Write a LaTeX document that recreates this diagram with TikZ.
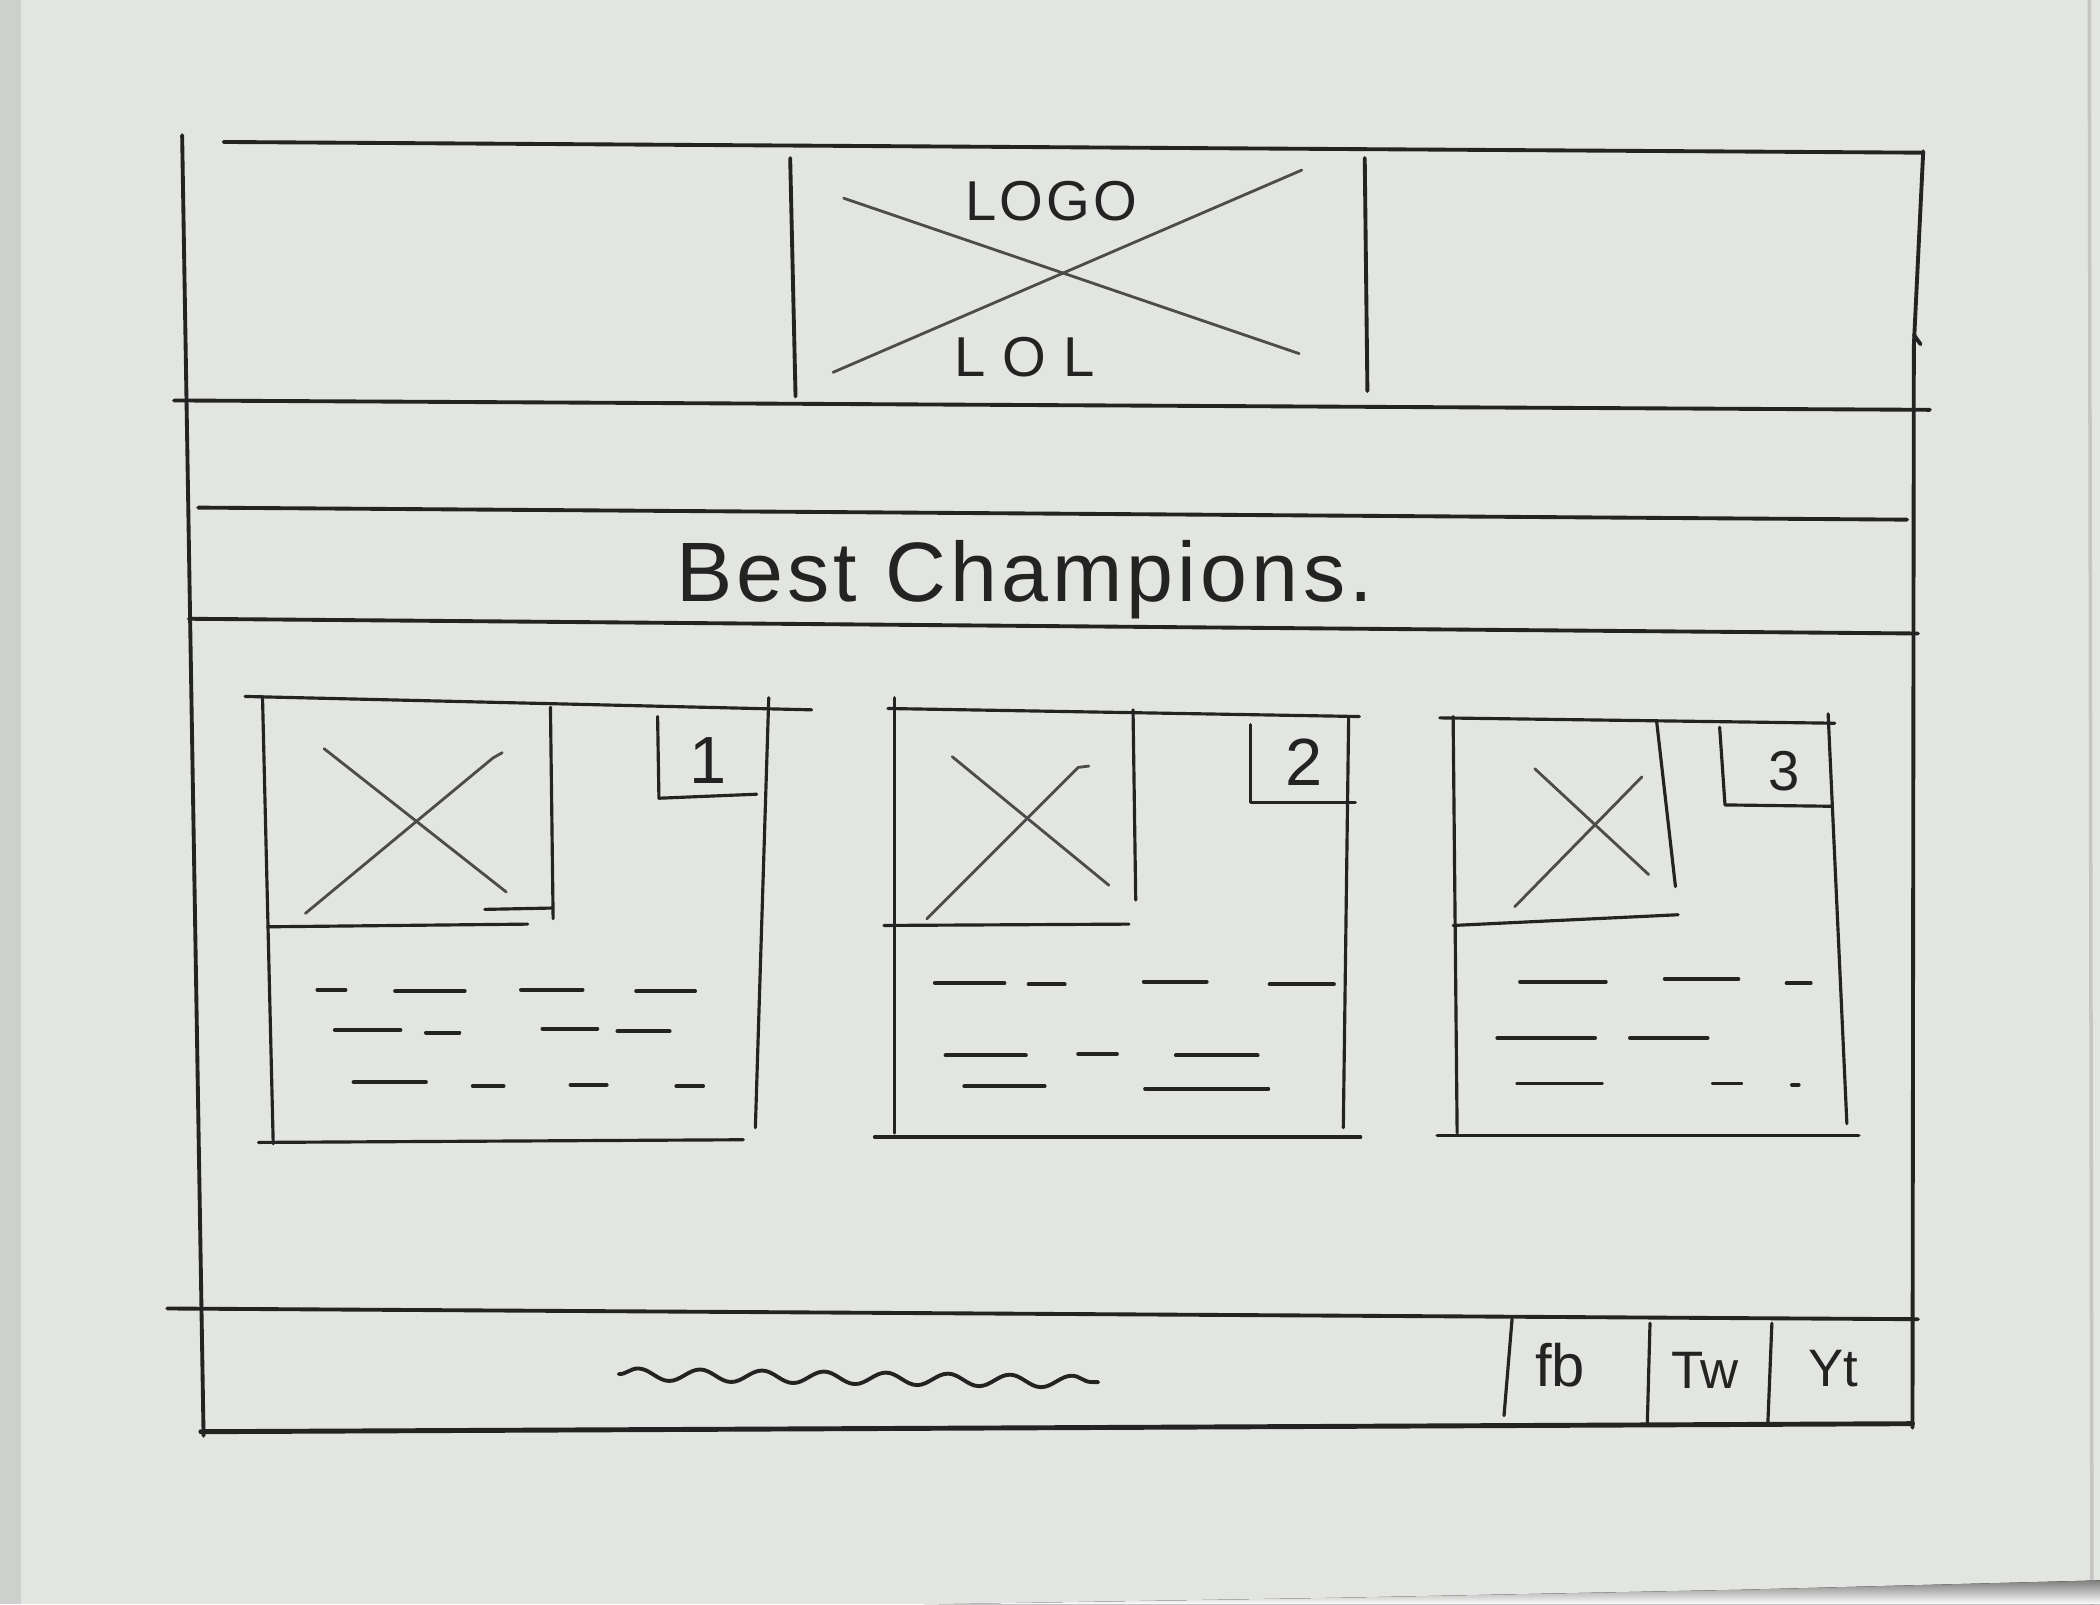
\documentclass[tikz,border=0pt]{standalone}
\usepackage{fontspec}
\setmainfont{Liberation Sans}
\usetikzlibrary{decorations.pathmorphing}
\definecolor{paper}{HTML}{E3E5E1}
\definecolor{paperedge}{HTML}{CDD0CD}
\definecolor{ink}{HTML}{232323}
\definecolor{pencil}{HTML}{4C4C4C}
\definecolor{shade}{HTML}{4E4E4E}
\begin{document}
\begin{tikzpicture}[x=0.01339cm, y=-0.01339cm, line cap=round, line join=round,
  frame/.style={draw=ink, line width=1.1pt},
  thin/.style={draw=ink, line width=0.9pt},
  xline/.style={draw=pencil, line width=0.8pt},
  scrib/.style={draw=ink, line width=1.1pt},
  hand/.style={inner sep=0pt, text=ink},
  squiggle/.style={draw=ink, line width=1.1pt, decorate,
    decoration={snake, segment length=0.62cm, amplitude=0.06cm}}]
% paper
\useasboundingbox (0,0) rectangle (1568,1198);
\fill[paper] (0,0) rectangle (1568,1198);
\fill[paperedge] (0,0) rectangle (16,1198);
\draw[gray!60, line width=1pt, opacity=0.6] (1560,0) -- (1562,1198);
\fill[shade] (690,1198) -- (1000,1193) -- (1300,1187) -- (1568,1180) -- (1568,1198) -- cycle;
% outer frame and bands
\draw[frame] (136,101) -- (152,1072);
\draw[frame] (167,106) -- (1436,114);
\draw[frame] (1436,113) -- (1429,258) -- (1428,1066);
\draw[frame] (1429,250) -- (1434,257);
\draw[frame] (130,299) -- (1441,306);
\draw[frame] (148,379) -- (1424,388);
\draw[frame] (141,462) -- (1432,473);
\draw[frame] (125,977) -- (1432,985);
\draw[frame, line width=1.4pt] (150,1069) -- (1428,1063);
% logo area
\draw[frame] (590,118) -- (594,296);
\draw[frame] (1019,118) -- (1021,292);
\draw[xline] (630,148) -- (970,264);
\draw[xline] (972,127) -- (622,278);
\node[hand, font=\fontsize{16}{18}\selectfont\addfontfeatures{LetterSpace=6}] (logo) at (785,150) {LOGO};
\node[hand, font=\fontsize{16}{18}\selectfont\addfontfeatures{LetterSpace=30}] (lol) at (765,267) {LOL};
% title
\node[hand, font=\fontsize{24}{28}\selectfont\addfontfeatures{LetterSpace=5}] (title) at (765,433) {Best Champions.};
% ---- card 1
\draw[thin] (183,520) -- (606,530);
\draw[thin] (196,520) -- (204,854);
\draw[thin] (574,521) -- (564,842);
\draw[thin] (193,853) -- (555,851);
\draw[thin] (411,528) -- (413,686);
\draw[thin] (200,692) -- (394,690);
\draw[thin] (362,679) -- (412,678);
\draw[xline] (242,559) -- (378,666);
\draw[xline] (228,682) -- (368,566) -- (375,562);
\draw[thin] (491,535) -- (492,596) -- (565,593);
\node[hand, font=\fontsize{19}{21}\selectfont] (n1) at (529,568) {1};
\foreach \a/\b/\y in {237/258/739, 295/347/740, 389/435/739, 475/519/740,
  250/299/769, 318/343/771, 405/446/768, 461/500/770,
  264/318/808, 353/376/811, 426/453/810, 505/525/811}
  \draw[scrib] (\a,\y) -- (\b,\y);
% ---- card 2
\draw[thin] (663,529) -- (1015,535);
\draw[thin] (668,521) -- (668,846);
\draw[thin] (1007,535) -- (1003,842);
\draw[thin] (653,849) -- (1016,849);
\draw[thin] (846,530) -- (848,672);
\draw[thin] (660,691) -- (843,690);
\draw[xline] (711,565) -- (828,661);
\draw[xline] (692,686) -- (805,573) -- (813,572);
\draw[thin] (934,541) -- (934,599) -- (1012,599);
\node[hand, font=\fontsize{19}{21}\selectfont] (n2) at (974,569) {2};
\foreach \a/\b/\y in {698/750/734, 768/795/735, 854/901/733, 948/996/735,
  706/766/788, 805/834/787, 878/939/788,
  720/780/811, 855/947/813}
  \draw[scrib] (\a,\y) -- (\b,\y);
% ---- card 3
\draw[thin] (1075,536) -- (1370,540);
\draw[thin] (1085,535) -- (1088,846);
\draw[thin] (1365,533) -- (1379,839);
\draw[thin] (1073,848) -- (1388,848);
\draw[thin] (1237,539) -- (1251,662);
\draw[thin] (1085,691) -- (1253,683);
\draw[xline] (1146,574) -- (1231,653);
\draw[xline] (1131,677) -- (1226,580);
\draw[thin] (1284,543) -- (1288,601) -- (1367,602);
\node[hand, font=\fontsize{16}{18}\selectfont] (n3) at (1332,576) {3};
\foreach \a/\b/\y in {1135/1199/733, 1243/1298/731, 1334/1352/734,
  1118/1191/775, 1217/1275/775,
  1133/1196/809, 1279/1300/809, 1338/1343/810}
  \draw[scrib] (\a,\y) -- (\b,\y);
% ---- footer
\draw[squiggle] (462,1026) -- (820,1032);
\draw[thin] (1129,985) -- (1123,1057);
\draw[thin] (1232,988) -- (1230,1063);
\draw[thin] (1323,988) -- (1320,1063);
\node[hand, font=\fontsize{17}{19}\selectfont] (fb) at (1165,1019) {fb};
\node[hand, font=\fontsize{15}{17}\selectfont] (tw) at (1273,1023) {Tw};
\node[hand, font=\fontsize{15}{17}\selectfont] (yt) at (1369,1022) {Yt};
\end{tikzpicture}
\end{document}
